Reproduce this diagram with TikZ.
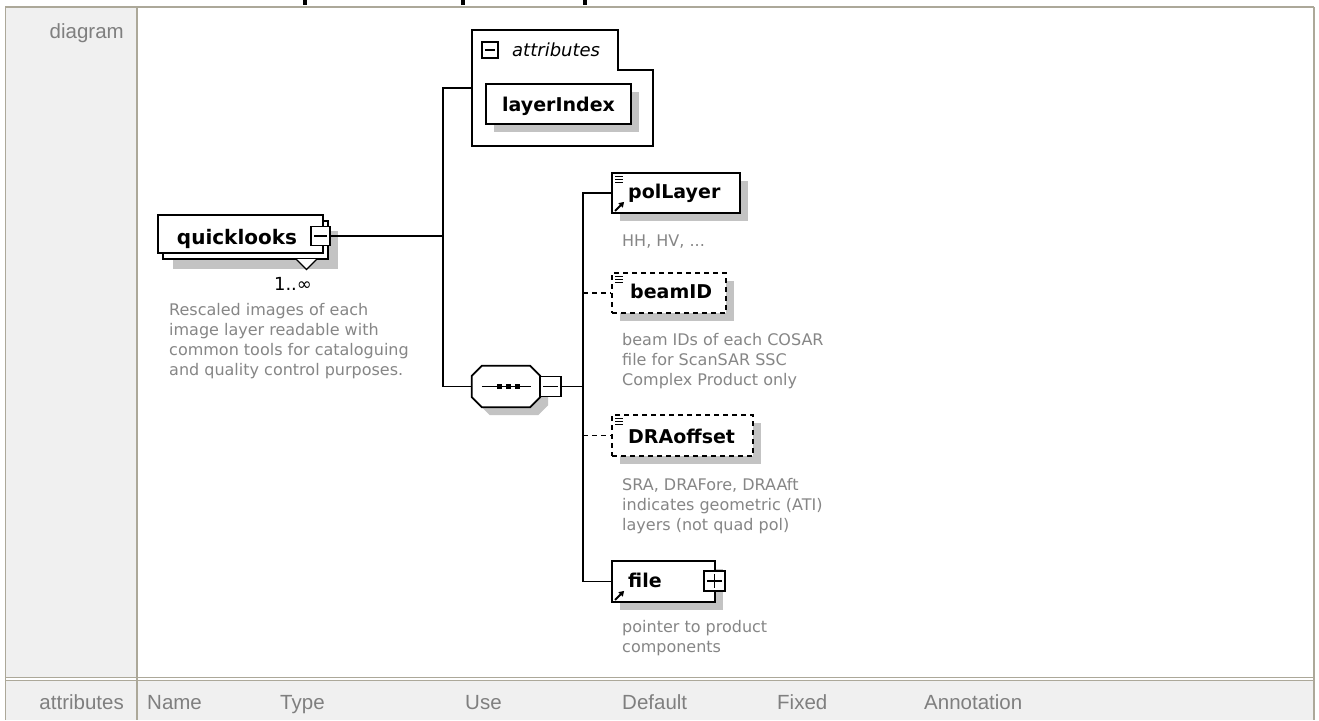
\documentclass[tikz,border=0pt]{standalone}
\usepackage{fontspec}
\setmainfont{DejaVu Sans}
\newfontfamily\hdrfont{Liberation Sans}
\usetikzlibrary{calc,shadows,arrows.meta}

\definecolor{cellfill}{HTML}{F0F0F0}
\definecolor{ruledark}{HTML}{ACA899}
\definecolor{hdrtext}{HTML}{7F7F7F}
\definecolor{desctext}{HTML}{868686}
\definecolor{shadefill}{HTML}{C3C3C3}

% strut that fixes the height of the first line of a description
\newcommand\firstline{\rule{0pt}{14pt}}
% small "documentation" mark in the top left corner of an element
\newcommand\docmark[1]{\draw[line width=1.2pt]
  ($(#1.north west)+(4,4.5)$) -- +(8,0)
  ($(#1.north west)+(4,7.5)$) -- +(8,0)
  ($(#1.north west)+(4,10.5)$) -- +(8,0);}
% reference arrow in the bottom left corner of an element
\newcommand\refmark[1]{\draw[line width=2pt,-{Triangle[length=5pt,width=6pt]}]
  ($(#1.south west)+(4,-3)$) -- +(9,-9);}
% minus and plus signs inside an expander box
\newcommand\minusmark[1]{\draw[line width=1.3pt]
  ($(#1.west)+(4,0)$) -- ($(#1.east)+(-4,0)$);}
\newcommand\plusmark[1]{\draw[line width=1.3pt]
  ($(#1.west)+(4,0)$) -- ($(#1.east)+(-4,0)$)
  ($(#1.north)+(0,4)$) -- ($(#1.south)+(0,-4)$);}

\begin{document}
\begin{tikzpicture}[x=1pt,y=-1pt,
  elem/.style={draw=black, line width=1.8pt, fill=white, inner sep=0pt},
  expander/.style={draw=black, line width=1.3pt, fill=white, inner sep=0pt},
  dropped/.style={drop shadow={shadow xshift=#1, shadow yshift=-#1, fill=shadefill, opacity=1}},
  dropped/.default=8pt,
  optional/.style={dash pattern=on 5pt off 4pt},
  tag/.style={font=\fontsize{19}{19}\selectfont\bfseries, inner sep=0pt, anchor=base west},
  desc/.style={font=\fontsize{16}{20}\selectfont, text=desctext, align=left, inner sep=0pt, anchor=north west},
  wire/.style={line width=1.6pt},
  hdr/.style={font=\hdrfont\fontsize{20.5}{20.5}\selectfont, text=hdrtext, inner sep=0pt}]

\useasboundingbox (0,0) rectangle (1319,720);
\fill[white] (0,0) rectangle (1319,720);

% ---- table frame ----
\fill[cellfill] (6,8) rectangle (137,677);
\fill[cellfill] (6,681) rectangle (1313,720);
\draw[ruledark, line width=2pt] (5,7) -- (1314,7);
\draw[ruledark, line width=1.5pt] (5.5,7) -- (5.5,720);
\draw[ruledark, line width=2pt] (1313.5,7) -- (1313.5,720);
\draw[ruledark, line width=2pt] (137,8) -- (137,720);
\draw[ruledark, line width=1.5pt] (5,677.5) -- (1314,677.5);
\draw[ruledark, line width=1.5pt] (5,680.5) -- (1314,680.5);
% descenders of the heading above the table
\fill[black] (303,0) rectangle (306.5,5);
\fill[black] (461,0) rectangle (464.5,5);
\fill[black] (583,0) rectangle (586.5,5);

\node[hdr, anchor=base east] (diaglbl) at (124,38) {diagram};
\node[hdr, anchor=base east] (attrlbl) at (124,709) {attributes};
\node[hdr, anchor=base west] (colname) at (147,709) {Name};
\node[hdr, anchor=base west] (coltype) at (280,709) {Type};
\node[hdr, anchor=base west] (coluse) at (465,709) {Use};
\node[hdr, anchor=base west] (coldef) at (622,709) {Default};
\node[hdr, anchor=base west] (colfix) at (777,709) {Fixed};
\node[hdr, anchor=base west] (colann) at (924,709) {Annotation};

% ---- quicklooks (1..unbounded) ----
\node[elem, dropped=9.5pt, minimum width=165pt, minimum height=38pt] (qlback) at (245.5,240) {};
\node[elem, minimum width=165pt, minimum height=38pt] (ql) at (240.5,234) {};
\node[font=\fontsize{20}{20}\selectfont\bfseries, inner sep=0pt, anchor=base] (qlt) at (237,244) {quicklooks};
\node[expander, minimum width=19pt, minimum height=19pt] (qlm) at (320.5,236) {};
\minusmark{qlm}
\draw[line width=1.3pt, fill=white] (296,259) -- (306.5,269.5) -- (317,259);
\node[font=\fontsize{18}{18}\selectfont, inner sep=0pt, anchor=base] (qlmult) at (293,290) {1..∞};
\node[desc] (qldesc) at (169,301) {\firstline Rescaled images of each\\image layer readable with\\common tools for cataloguing\\and quality control purposes.};

% ---- attribute group ----
\draw[line width=1.7pt, fill=white] (472,30) -- (618,30) -- (618,70) -- (653,70) -- (653,146) -- (472,146) -- cycle;
\coordinate (attrin) at (472,88);
\node[expander, minimum width=16pt, minimum height=16pt] (attrm) at (490,50) {};
\minusmark{attrm}
\node[font=\fontsize{18}{18}\selectfont\itshape, inner sep=0pt, anchor=base west] (attrt) at (512,56) {attributes};
\node[elem, dropped, minimum width=145pt, minimum height=40pt] (li) at (558.5,104) {};
\node[tag, anchor=base] (lit) at (558.5,111.5) {layerIndex};

% ---- sequence compositor ----
\node[inner sep=0pt, minimum width=68pt, minimum height=41pt] (seq) at (506,386.5) {};
\draw[elem, dropped] ($(seq.north west)+(10,0)$) -- ($(seq.north east)+(-10,0)$)
  -- ($(seq.north east)+(0,10)$) -- ($(seq.south east)+(0,-10)$)
  -- ($(seq.south east)+(-10,0)$) -- ($(seq.south west)+(10,0)$)
  -- ($(seq.south west)+(0,-10)$) -- ($(seq.north west)+(0,10)$) -- cycle;
\draw[line width=1.5pt] ($(seq.west)+(10,0)$) -- ($(seq.east)+(-9,0)$);
\fill[black] (496.5,384) rectangle (501.5,389);
\fill[black] (505.5,384) rectangle (510.5,389);
\fill[black] (514.5,384) rectangle (519.5,389);
\node[expander, minimum width=21pt, minimum height=20pt] (seqm) at (550.5,386.5) {};
\minusmark{seqm}

% ---- child elements ----
\node[elem, dropped, minimum width=128pt, minimum height=40pt] (pol) at (676,193) {};
\node[tag] (polt) at (628,198) {polLayer};
\docmark{pol}
\refmark{pol}
\node[desc] (poldesc) at (622,232) {\firstline HH, HV, ...};

\node[elem, optional, dropped, minimum width=114pt, minimum height=40pt] (beam) at (669,293) {};
\node[tag] (beamt) at (630,298) {beamID};
\docmark{beam}
\node[desc] (beamdesc) at (622,331) {\firstline beam IDs of each COSAR\\file for ScanSAR SSC\\Complex Product only};

\node[elem, optional, dropped, minimum width=141pt, minimum height=41pt] (dra) at (682.5,435.5) {};
\node[tag] (drat) at (628,443) {DRAoffset};
\docmark{dra}
\node[desc] (dradesc) at (622,476) {\firstline SRA, DRAFore, DRAAft\\indicates geometric (ATI)\\layers (not quad pol)};

\node[elem, dropped, minimum width=103pt, minimum height=41pt] (file) at (663.5,581.5) {};
\node[tag] (filet) at (628,587) {file};
\refmark{file}
\node[expander, minimum width=21pt, minimum height=20pt] (filep) at (714.5,581) {};
\plusmark{filep}
\node[desc] (filedesc) at (622,618) {\firstline pointer to product\\components};

% ---- connectors ----
\coordinate (t1a) at (443,88);
\coordinate (t1b) at (443,386.5);
\coordinate (t2) at (583,193);
\draw[wire] (qlm.east) -- (qlm.east -| t1a);
\draw[wire] (attrin) -- (t1a) -- (t1b) -- (seq.west);
\draw[wire] (seqm.east) -- (seqm.east -| t2);
\draw[wire] (pol.west) -- (pol.west -| t2) -- (file.west -| t2) -- (file.west);
\draw[wire, optional] (beam.west -| t2) -- (beam.west);
\draw[wire, optional] (dra.west -| t2) -- (dra.west);
\end{tikzpicture}
\end{document}
